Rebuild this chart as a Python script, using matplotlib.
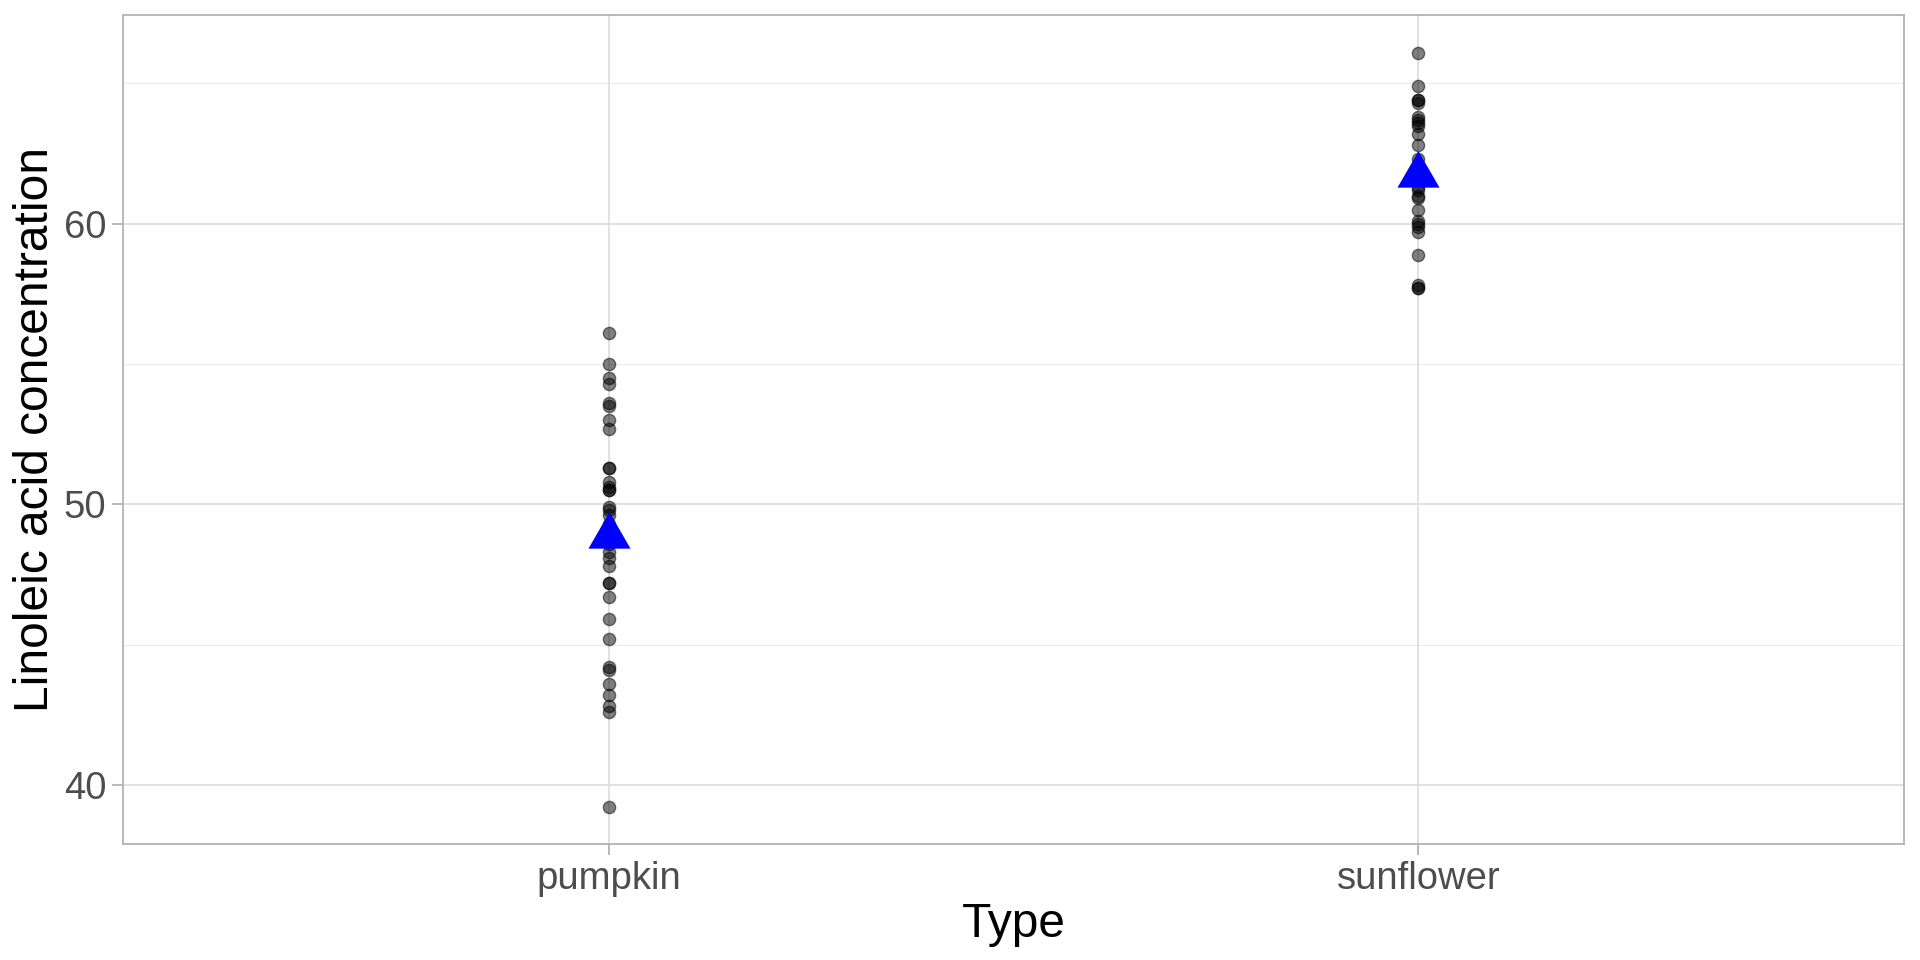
#!/usr/bin/env python3

import numpy as np
import matplotlib
matplotlib.use("Agg")
import matplotlib.pyplot as plt

# values
types = ["pumpkin", "sunflower"]
pumpkin = [56.1, 55.0, 54.5, 54.3, 53.6, 53.5, 53.0, 52.7, 51.3, 51.3,
           50.8, 50.6, 50.5, 50.5, 49.9, 49.8, 49.6, 49.3, 49.0, 48.6,
           48.3, 48.1, 47.8, 47.2, 47.2, 46.7, 45.9, 45.2, 44.2, 44.1,
           43.6, 43.2, 42.8, 42.6, 39.2]
sunflower = [66.1, 64.9, 64.4, 64.4, 64.3, 63.8, 63.7, 63.6, 63.5, 63.2,
             62.8, 62.3, 61.3, 61.2, 61.0, 60.9, 60.5, 60.1, 60.0, 59.9,
             59.7, 58.9, 57.8, 57.7, 57.7]
y_ticks = [40, 50, 60]
y_minor = [45, 55, 65]

plt.rcParams['font.family'] = ['Liberation Sans', 'DejaVu Sans']

fig = plt.figure(figsize=(19.2, 9.6), dpi=100)
ax = fig.add_axes([0.064, 0.1208, 0.9277, 0.8636])

groups = [pumpkin, sunflower]
xs = np.arange(1, len(types) + 1)

# grid like theme_light
for v in y_ticks:
    ax.axhline(v, color="#DEDEDE", lw=1.3, zorder=0)
for v in y_minor:
    ax.axhline(v, color="#EBEBEB", lw=0.8, zorder=0)
for x in xs:
    ax.axvline(x, color="#DEDEDE", lw=1.3, zorder=0)

for x, vals in zip(xs, groups):
    ax.scatter(np.full(len(vals), x), vals, s=78, c="black", alpha=0.5,
               linewidths=1.0, edgecolors="black", zorder=2)

# mean as blue triangle (centroid centred)
tri = [(0, 1), (-0.866, -0.5), (0.866, -0.5)]
means = [np.mean(v) for v in groups]
ax.plot(xs, means, linestyle="none", marker=tri, markersize=35,
        color="blue", markeredgewidth=0, zorder=3)

ax.set_xlim(0.4, 2.6)
ax.set_ylim(37.89, 67.44)
ax.set_xticks(xs)
ax.set_xticklabels(types)
ax.set_yticks(y_ticks)

for s in ax.spines.values():
    s.set_color("#B3B3B3")
    s.set_linewidth(1.3)
ax.tick_params(colors="#B3B3B3", length=8, width=1.3, labelsize=27.5,
               labelcolor="#4D4D4D", pad=4)

ax.set_xlabel("Type", fontsize=34.5, labelpad=4)
ax.set_ylabel("Linoleic acid concentration", fontsize=34.5, labelpad=4)

fig.savefig("out.png", dpi=100)
